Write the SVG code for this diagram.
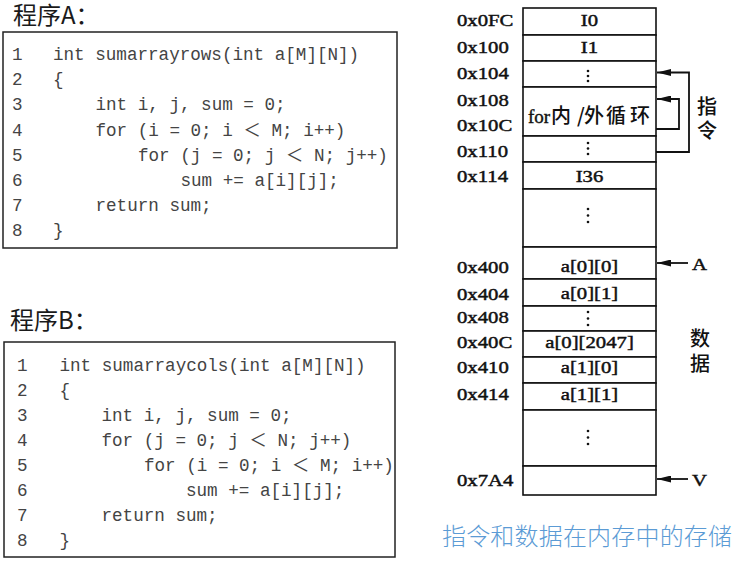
<svg xmlns="http://www.w3.org/2000/svg" width="736" height="562" viewBox="0 0 736 562">
<defs>
<style>
.title{font-family:"Noto Sans CJK SC","Noto Sans",sans-serif;font-size:24px;fill:#1a1a1a}
.box{fill:#fff;stroke:#222;stroke-width:1.5}
.code{font-family:"Liberation Mono","Noto Sans CJK SC",monospace;font-size:17.6px;fill:#444;white-space:pre}
.cell{fill:#fff;stroke:#111;stroke-width:1.6}
.addr{font-family:"Liberation Serif",serif;font-size:17px;fill:#111;stroke:#111;stroke-width:0.45}
.lbl{font-family:"Liberation Serif",serif;font-size:17px;fill:#111;stroke:#111;stroke-width:0.45;text-anchor:middle}
.cjk{font-family:"Noto Sans CJK SC",sans-serif;font-size:20px;fill:#111;font-weight:500}
.dot{fill:#111}
.conn{fill:none;stroke:#111;stroke-width:1.8}
.cap{font-family:"Noto Sans CJK SC",sans-serif;font-size:24px;fill:#5B9BD5;font-weight:300}
</style>
<marker id="ah" markerUnits="userSpaceOnUse" markerWidth="14" markerHeight="7" refX="14" refY="3.5" orient="auto">
<path d="M0,0 L14,3.5 L0,7 z" fill="#111"/>
</marker>
</defs>
<rect width="736" height="562" fill="#fff"/>

<g id="progA">
<text class="title" x="13" y="24">程序A：</text>
<rect class="box" x="3" y="32" width="394" height="216"/>
<g class="code">
<text x="12" y="60">1</text><text x="53" y="60">int sumarrayrows(int a[M][N])</text>
<text x="12" y="85.2">2</text><text x="53" y="85.2">{</text>
<text x="12" y="110.4">3</text><text x="95.5" y="110.4">int i, j, sum = 0;</text>
<text x="12" y="135.6">4</text><text x="95.5" y="135.6">for (i = 0; i ＜ M; i++)</text>
<text x="12" y="160.8">5</text><text x="138" y="160.8">for (j = 0; j ＜ N; j++)</text>
<text x="12" y="186">6</text><text x="180.5" y="186">sum += a[i][j];</text>
<text x="12" y="211.2">7</text><text x="95.5" y="211.2">return sum;</text>
<text x="12" y="236.4">8</text><text x="53" y="236.4">}</text>
</g>
</g>

<g id="progB">
<text class="title" x="10" y="329">程序B：</text>
<rect class="box" x="4" y="342" width="391" height="215"/>
<g class="code">
<text x="17" y="370.5">1</text><text x="59.5" y="370.5">int sumarraycols(int a[M][N])</text>
<text x="17" y="395.6">2</text><text x="59.5" y="395.6">{</text>
<text x="17" y="420.7">3</text><text x="101.5" y="420.7">int i, j, sum = 0;</text>
<text x="17" y="445.8">4</text><text x="101.5" y="445.8">for (j = 0; j ＜ N; j++)</text>
<text x="17" y="470.9">5</text><text x="144" y="470.9">for (i = 0; i ＜ M; i++)</text>
<text x="17" y="496">6</text><text x="186" y="496">sum += a[i][j];</text>
<text x="17" y="521.1">7</text><text x="101.5" y="521.1">return sum;</text>
<text x="17" y="546.2">8</text><text x="59.5" y="546.2">}</text>
</g>
</g>

<g id="memory">
<rect class="cell" x="523" y="8" width="133" height="27"/>
<rect class="cell" x="523" y="35" width="133" height="26"/>
<rect class="cell" x="523" y="61" width="133" height="26"/>
<rect class="cell" x="523" y="87" width="133" height="49"/>
<rect class="cell" x="523" y="136" width="133" height="26"/>
<rect class="cell" x="523" y="162" width="133" height="27"/>
<rect class="cell" x="523" y="189" width="133" height="58"/>
<rect class="cell" x="523" y="247" width="133" height="32"/>
<rect class="cell" x="523" y="279" width="133" height="27"/>
<rect class="cell" x="523" y="306" width="133" height="25"/>
<rect class="cell" x="523" y="331" width="133" height="26"/>
<rect class="cell" x="523" y="357" width="133" height="26"/>
<rect class="cell" x="523" y="383" width="133" height="27"/>
<rect class="cell" x="523" y="410" width="133" height="56"/>
<rect class="cell" x="523" y="466" width="133" height="29"/>
<g class="dot">
<circle cx="588" cy="71" r="1.3"/><circle cx="588" cy="76" r="1.3"/><circle cx="588" cy="81" r="1.3"/>
<circle cx="588" cy="143" r="1.3"/><circle cx="588" cy="148.5" r="1.3"/><circle cx="588" cy="154" r="1.3"/>
<circle cx="588" cy="209" r="1.3"/><circle cx="588" cy="215.5" r="1.3"/><circle cx="588" cy="222" r="1.3"/>
<circle cx="588" cy="312" r="1.3"/><circle cx="588" cy="318.5" r="1.3"/><circle cx="588" cy="325" r="1.3"/>
<circle cx="588" cy="431" r="1.3"/><circle cx="588" cy="437.5" r="1.3"/><circle cx="588" cy="444" r="1.3"/>
</g>
<g transform="scale(1.22,1)">
<text class="lbl" x="483.2" y="26">I0</text>
<text class="lbl" x="483.2" y="53">I1</text>
<text class="lbl" x="483.2" y="182">I36</text>
<text class="lbl" x="483.2" y="272.5">a[0][0]</text>
<text class="lbl" x="483.2" y="299.5">a[0][1]</text>
<text class="lbl" x="483.2" y="348">a[0][2047]</text>
<text class="lbl" x="483.2" y="373">a[1][0]</text>
<text class="lbl" x="483.2" y="400">a[1][1]</text>
</g>
<text y="122.5"><tspan x="528" style="font-family:'Liberation Serif',serif;font-size:19px;fill:#111;stroke:#111;stroke-width:0.4">for</tspan><tspan class="cjk" x="551">内</tspan><tspan class="cjk" x="577">/</tspan><tspan class="cjk" x="584">外</tspan><tspan class="cjk" x="606">循</tspan><tspan class="cjk" x="630">环</tspan></text>
</g>

<g id="addresses" transform="scale(1.22,1)">
<text class="addr" x="374.6" y="26">0x0FC</text>
<text class="addr" x="374.6" y="53">0x100</text>
<text class="addr" x="374.6" y="79">0x104</text>
<text class="addr" x="374.6" y="106">0x108</text>
<text class="addr" x="374.6" y="131.5">0x10C</text>
<text class="addr" x="374.6" y="157">0x110</text>
<text class="addr" x="374.6" y="182">0x114</text>
<text class="addr" x="374.6" y="273">0x400</text>
<text class="addr" x="374.6" y="300">0x404</text>
<text class="addr" x="374.6" y="323">0x408</text>
<text class="addr" x="374.6" y="348">0x40C</text>
<text class="addr" x="374.6" y="373">0x410</text>
<text class="addr" x="374.6" y="400">0x414</text>
<text class="addr" x="374.6" y="486">0x7A4</text>
<text class="addr" x="567.2" y="270">A</text>
<text class="addr" x="567.2" y="486">V</text>
</g>

<g id="labels">
<text class="cjk" x="707" y="114" text-anchor="middle">指</text>
<text class="cjk" x="707" y="138" text-anchor="middle">令</text>
<text class="cjk" x="700" y="346" text-anchor="middle">数</text>
<text class="cjk" x="700" y="371" text-anchor="middle">据</text>
</g>

<g id="connectors">
<path class="conn" d="M656,152 H689 V72.5 H657" marker-end="url(#ah)"/>
<path class="conn" d="M656,129 H679 V99 H657" marker-end="url(#ah)"/>
<path class="conn" d="M688,263 H657" marker-end="url(#ah)"/>
<path class="conn" d="M688,479 H657" marker-end="url(#ah)"/>
</g>

<text id="caption" class="cap" x="442" y="545" textLength="290">指令和数据在内存中的存储</text>
</svg>
